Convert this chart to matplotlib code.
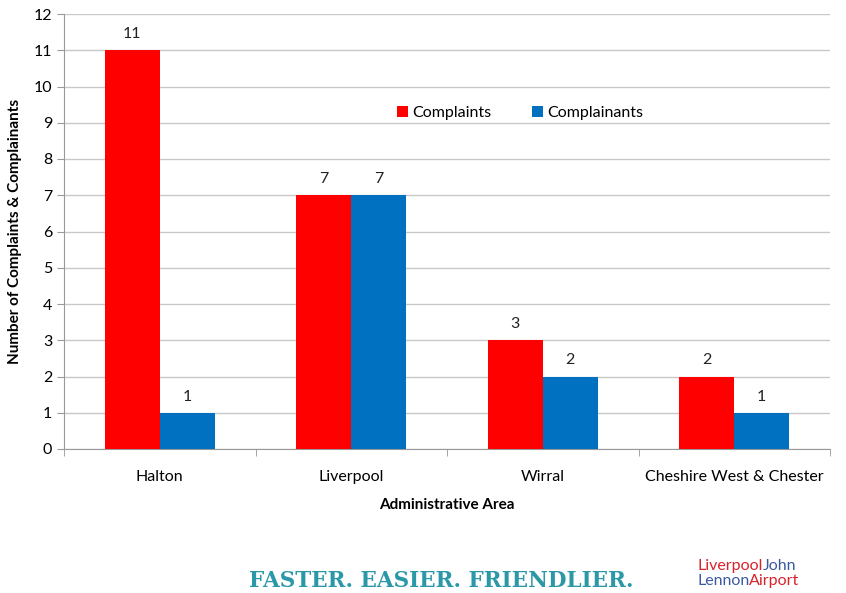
import matplotlib
matplotlib.use("Agg")
import matplotlib.pyplot as plt
import numpy as np

categories = ["Halton", "Liverpool", "Wirral", "Cheshire West & Chester"]
complaints = [11, 7, 3, 2]
complainants = [1, 7, 2, 1]
yticks = list(range(0, 13))

plt.rcParams['font.family'] = ['Lato', 'DejaVu Sans']

fig = plt.figure(figsize=(8.46, 5.93), dpi=100)
ax = fig.add_axes([64/846, 1-449/593, 766/846, 435/593])

x = np.arange(len(categories))
w = 0.287
b1 = ax.bar(x - w/2, complaints, w, color="#ff0000", label="Complaints", zorder=3)
b2 = ax.bar(x + w/2, complainants, w, color="#0070c0", label="Complainants", zorder=3)

for bars, vals in ((b1, complaints), (b2, complainants)):
    for r, v in zip(bars, vals):
        ax.text(r.get_x() + r.get_width()/2, v + 0.25, str(v), ha="center", va="bottom",
                fontsize=11.5, color="#222222")

ax.set_xlim(-0.5, 3.5)
ax.set_ylim(0, 12)
ax.set_yticks(yticks)
ax.set_xticks(x)
ax.set_xticklabels(categories, fontsize=11.5)
ax.tick_params(axis='x', length=0, pad=15)
ax.set_xticks(np.arange(-0.5, 4.0, 1.0), minor=True)
ax.tick_params(axis='x', which='minor', length=5, color="#999999")
ax.tick_params(axis='y', labelsize=11.5, length=5, color="#999999")
ax.yaxis.grid(True, color="#c8c8c8", linewidth=1, zorder=0)
ax.set_axisbelow(True)
for s in ("top", "right"):
    ax.spines[s].set_visible(False)
for s in ("left", "bottom"):
    ax.spines[s].set_color("#999999")

ax.set_ylabel("Number of Complaints & Complainants", fontsize=11, fontweight="bold", labelpad=8)
ax.set_xlabel("Administrative Area", fontsize=11, fontweight="bold", labelpad=10)

ax.legend(loc="center", bbox_to_anchor=((520-64)/766, (449-113)/435), ncol=2, frameon=False,
          fontsize=11.5, handlelength=0.7, handleheight=0.7, columnspacing=2.5, handletextpad=0.3)

fig.text(441/846, 1-581/593, "FASTER. EASIER. FRIENDLIER.", ha="center", va="center",
         fontsize=15.5, fontweight="bold", color="#2a98a6", family=["DejaVu Serif"])

t1 = fig.text(697/846, 1-566/593, "Liverpool", ha="left", va="center", fontsize=11.5, color="#d8232a")
fig.canvas.draw()
bb = t1.get_window_extent()
fig.text(bb.x1/846, 1-566/593, "John", ha="left", va="center", fontsize=11.5, color="#3a5aa0")
t2 = fig.text(697/846, 1-581/593, "Lennon", ha="left", va="center", fontsize=11.5, color="#3a5aa0")
fig.canvas.draw()
bb2 = t2.get_window_extent()
fig.text(bb2.x1/846, 1-581/593, "Airport", ha="left", va="center", fontsize=11.5, color="#d8232a")

fig.savefig("out.png", dpi=100)
